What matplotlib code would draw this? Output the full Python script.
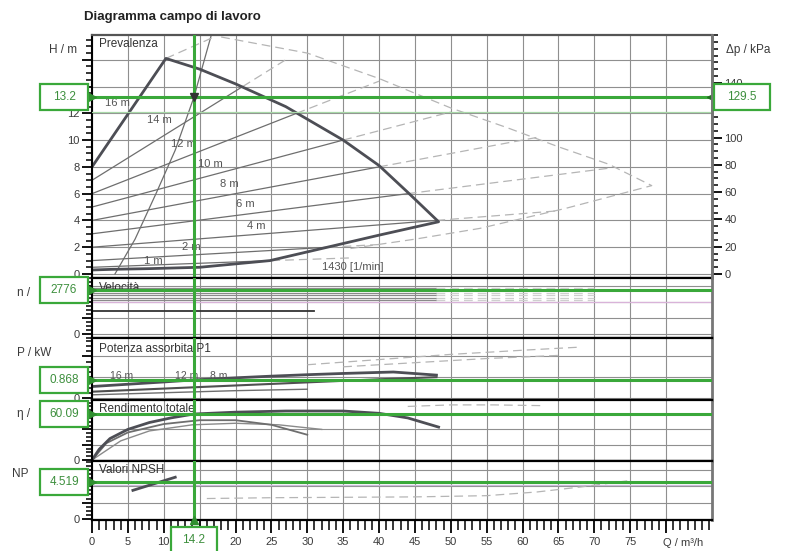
import numpy as np
import matplotlib.pyplot as plt
from matplotlib.patches import Rectangle
from matplotlib.ticker import MultipleLocator, FixedLocator, FixedFormatter

plt.rcParams["font.family"] = ["Liberation Sans", "DejaVu Sans"]

# operating point
Q_op = 14.2
H_op = 13.2
dp_op = 129.5
n_op = 2776
P_op = 0.868
eta_op = 60.09
npsh_op = 4.519

# head envelope (max / min speed)
Q_env = [0, 10.3, 15, 20, 27, 35, 40, 44, 48.3, 40, 32, 24.8, 15, 8, 3, 0]
H_env = [8, 16.1, 15.3, 14.2, 12.5, 10, 8.1, 6.1, 3.9, 2.9, 1.9, 1.0, 0.5, 0.4, 0.35, 0.3]

# outer dashed envelope
Q_env_out = [18, 30, 40, 50, 58, 65, 72, 78, 66, 54, 45, 36]
H_env_out = [17.7, 16.5, 14.6, 12.4, 10.9, 9.5, 8.2, 6.6, 4.9, 3.4, 2.6, 1.9]

# dp-v control lines: start at Q=0, end on the envelope, dashed end outside
setpoints = ["16 m", "14 m", "12 m", "10 m", "8 m", "6 m", "4 m", "2 m", "1 m"]
H_fan_start = [8, 7, 6, 5, 4, 3, 2, 1, 0.5]
Q_fan_mid = [10.3, 21, 28.5, 35, 40, 44, 48, 33, 25]
H_fan_mid = [16.1, 14, 12, 10, 8, 6, 4, 2, 1.0]
Q_fan_end = [17, 27, 40, 50, 62, 72, 64.5, 40, 36]
H_fan_end = [17.7, 16.0, 14.4, 12.1, 10.2, 7.9, 4.7, 2.2, 1.2]
Q_fan_lbl = [1.8, 7.6, 11.0, 14.8, 17.8, 20.0, 21.6, 12.5, 7.2]
H_fan_lbl = [12.8, 11.5, 9.7, 8.2, 6.7, 5.2, 3.6, 2.0, 1.0]

# system curve
Q_sys = [3.2, 6, 9, 11.6, 14.2, 16.6]
H_sys = [0, 2.6, 6.1, 9.25, 13.2, 17.8]

# speed lines
n_levels = [2900, 2750, 2600, 2450, 2300, 2150]
n_min = 1430
Q_n_max = 48
Q_n_min = 31

# power input P1
Q_P1 = [0, 5, 10, 14.2, 20, 25, 30, 35, 42, 48]
P_P1 = [0.55, 0.66, 0.77, 0.868, 0.97, 1.05, 1.12, 1.18, 1.25, 1.1]
Q_P2 = [0, 10, 20, 30, 40, 48]
P_P2 = [0.3, 0.45, 0.6, 0.75, 0.9, 1.0]
Q_P3 = [0, 10, 20, 30]
P_P3 = [0.15, 0.25, 0.35, 0.42]
Q_P4 = [30, 40, 50, 60, 68]
P_P4 = [1.6, 1.85, 2.1, 2.3, 2.45]
Q_P5 = [35, 45, 55, 65]
P_P5 = [1.5, 1.7, 1.9, 2.05]

# total efficiency
Q_e1 = [0, 1, 2.5, 5, 8, 11, 14.2, 20, 27, 35, 40, 44, 48.3]
E_e1 = [0, 14, 28, 40, 49, 55, 60.09, 62.5, 64, 64, 61, 55, 43]
Q_e2 = [0, 2, 5, 10, 15, 20, 25, 30]
E_e2 = [0, 22, 36, 47, 52, 52, 46, 33]
Q_e3 = [0, 4, 8, 14, 20, 26, 32]
E_e3 = [0, 25, 38, 46, 48, 46, 40]
Q_e4 = [44, 50, 56, 63]
E_e4 = [70, 72, 72, 71]

# NPSH
Q_s1 = [5.7, 11.6]
S_s1 = [3.5, 5.1]
Q_s2 = [16, 25, 35, 45, 55, 62, 68, 75]
S_s2 = [2.5, 2.6, 2.65, 2.7, 2.85, 3.3, 3.9, 4.7]

x_ticks = [0, 5, 10, 15, 20, 25, 30, 35, 40, 45, 50, 55, 60, 65, 70, 75]
h_ticks = [0, 2, 4, 6, 8, 10, 12, 14, 16]
dp_ticks = [0, 20, 40, 60, 80, 100, 120, 140]

W, HP = 791, 551
GREEN = "#3aa83a"
GREEN_TXT = "#3d8f3d"
DARK = "#4d4e55"
GRAY = "#6e6e6e"
LIGHT = "#b5b5b5"
GRID = "#8f8f8f"
TXT = "#3a3a3a"

fig = plt.figure(figsize=(W / 100, HP / 100), dpi=100)


def frac(x0, y0, x1, y1):
    return [x0 / W, 1 - y1 / HP, (x1 - x0) / W, (y1 - y0) / HP]


axH = fig.add_axes(frac(92, 35, 712, 278))
axN = fig.add_axes(frac(92, 278, 712, 338), sharex=axH)
axP = fig.add_axes(frac(92, 338, 712, 400), sharex=axH)
axE = fig.add_axes(frac(92, 400, 712, 461), sharex=axH)
axS = fig.add_axes(frac(92, 461, 712, 520), sharex=axH)
panels = [axH, axN, axP, axE, axS]

axH.set_xlim(0, 86.4)
axH.set_ylim(-0.3, 17.85)
axN.set_ylim(-250, 3530)
axP.set_ylim(-0.1, 2.89)
axE.set_ylim(-1.3, 78.4)
axS.set_ylim(-0.12, 7.08)

major = {axH: 2, axN: 1000, axP: 1, axE: 20, axS: 2}
minor = {axH: 0.5, axN: 250, axP: 0.25, axE: 5, axS: 0.5}

for ax in panels:
    ax.yaxis.set_major_locator(MultipleLocator(major[ax]))
    ax.yaxis.set_minor_locator(MultipleLocator(minor[ax]))
    ax.xaxis.set_major_locator(MultipleLocator(5))
    ax.xaxis.set_minor_locator(MultipleLocator(1))
    ax.grid(True, which="major", color=GRID, lw=0.8)
    ax.set_axisbelow(True)
    ax.tick_params(axis="y", which="major", direction="out", length=7, width=1.3,
                   labelsize=8, labelcolor=TXT, pad=2)
    ax.tick_params(axis="y", which="minor", direction="out", length=4, width=1.1)
    ax.spines["left"].set_linewidth(1.5)
    ax.spines["bottom"].set_linewidth(1.6)
    ax.spines["top"].set_linewidth(1.6)
    ax.spines["right"].set_color("#777777")
    ax.spines["right"].set_linewidth(2)
    if ax is not axS:
        ax.tick_params(axis="x", which="both", length=0, labelbottom=False)

# x labels: the one under the duty-point box stays empty
axS.tick_params(axis="x", which="major", direction="out", length=9, width=1.3,
                labelsize=8, labelcolor=TXT, pad=3)
axS.tick_params(axis="x", which="minor", direction="out", length=7, width=1.1)
axS.xaxis.set_major_locator(FixedLocator(x_ticks + [80]))
axS.xaxis.set_major_formatter(FixedFormatter(
    ["" if abs(t - Q_op) < 3 else str(t) for t in x_ticks] + [""]))
axH.spines["top"].set_color("#555555")

# only the zero label on the small panels
for ax in [axN, axP, axE, axS]:
    locs = ax.yaxis.get_major_locator()()
    ax.yaxis.set_major_locator(FixedLocator(locs))
    ax.yaxis.set_major_formatter(FixedFormatter(["0" if abs(v) < 1e-9 else "" for v in locs]))
axH.yaxis.set_major_locator(FixedLocator(h_ticks))
axH.yaxis.set_major_formatter(FixedFormatter(
    ["" if v >= 14 else str(v) for v in h_ticks]))

# head panel
axH.plot(Q_sys, H_sys, color=GRAY, lw=0.9)
for i in range(len(setpoints)):
    axH.plot([0, Q_fan_mid[i]], [H_fan_start[i], H_fan_mid[i]], color=GRAY, lw=0.9)
    axH.plot([Q_fan_mid[i], Q_fan_end[i]], [H_fan_mid[i], H_fan_end[i]],
             color=LIGHT, lw=0.9, dashes=(7, 4))
    axH.text(Q_fan_lbl[i], H_fan_lbl[i], setpoints[i], fontsize=8, color="#555555",
             ha="left", va="center")
axH.plot(Q_env_out, H_env_out, color=LIGHT, lw=0.9, dashes=(7, 4))
axH.plot(Q_env, H_env, color=DARK, lw=2)
axH.text(32, 0.55, "1430 [1/min]", fontsize=8, color="#555555", va="center")
axH.text(0.012, 0.965, "Prevalenza", transform=axH.transAxes, fontsize=8.5,
         color="#333333", va="center")

axR = axH.twinx()
axR.set_ylim(np.array(axH.get_ylim()) * 9.81)
axR.yaxis.set_major_locator(FixedLocator(dp_ticks))
axR.yaxis.set_major_formatter(FixedFormatter(
    ["" if abs(v - dp_op) < 10 else str(v) for v in dp_ticks]))
axR.yaxis.set_minor_locator(MultipleLocator(5))
axR.tick_params(axis="y", which="major", direction="out", length=7, width=1.3,
                labelsize=8, labelcolor=TXT, pad=2)
axR.tick_params(axis="y", which="minor", direction="out", length=4, width=1.1)
for s in ["top", "bottom", "left"]:
    axR.spines[s].set_visible(False)
axR.spines["right"].set_color("#777777")
axR.spines["right"].set_linewidth(2)

# speed panel
for nv in n_levels:
    axN.plot([0, Q_n_max], [nv, nv], color="#8a8a8a", lw=0.9)
    axN.plot([Q_n_max, 70], [nv, nv], color="#cfcfcf", lw=0.9, dashes=(7, 4))
axN.plot([0, Q_n_min], [n_min, n_min], color="#333333", lw=1.3)
axN.axhline(2000, color="#d9b3d9", lw=0.9)
axN.text(0.012, 0.83, "Velocità", transform=axN.transAxes, fontsize=8.5, color="#333333",
         va="center")

# power panel
axP.plot(Q_P4, P_P4, color=LIGHT, lw=0.9, dashes=(7, 4))
axP.plot(Q_P5, P_P5, color=LIGHT, lw=0.9, dashes=(7, 4))
axP.plot(Q_P3, P_P3, color=GRAY, lw=1)
axP.plot(Q_P2, P_P2, color="#505050", lw=1.5)
axP.plot(Q_P1, P_P1, color=DARK, lw=2)
for q, lbl in zip([2.5, 11.5, 16.5], ["16 m", "12 m", "8 m"]):
    axP.text(q, 1.05, lbl, fontsize=7.5, color="#555555", va="center")
axP.text(0.012, 0.83, "Potenza assorbita P1", transform=axP.transAxes, fontsize=8.5,
         color="#333333", va="center")

# efficiency panel
axE.plot(Q_e4, E_e4, color=LIGHT, lw=0.9, dashes=(7, 4))
axE.plot(Q_e3, E_e3, color="#8a8a8a", lw=1)
axE.plot(Q_e2, E_e2, color=GRAY, lw=1.3)
axE.plot(Q_e1, E_e1, color=DARK, lw=2)
axE.text(0.012, 0.85, "Rendimento totale", transform=axE.transAxes, fontsize=8.5,
         color="#333333", va="center")

# NPSH panel
axS.axhline(4.1, color="#c9bcd9", lw=0.9)
axS.plot(Q_s2, S_s2, color=LIGHT, lw=0.9, dashes=(7, 4))
axS.plot(Q_s1, S_s1, color=DARK, lw=2)
axS.text(0.012, 0.84, "Valori NPSH", transform=axS.transAxes, fontsize=8.5,
         color="#333333", va="center")

# operating point lines
op_vals = {axH: H_op, axN: n_op, axP: P_op, axE: eta_op, axS: npsh_op}
for ax, v in op_vals.items():
    ax.axvline(Q_op, color=GREEN, lw=2.2, zorder=4)
    ax.axhline(v, color=GREEN, lw=2.2, zorder=4)
    ax.plot([0], [v], marker=">", color="#2f8f2f", ms=6, clip_on=False, zorder=6)
axH.axhline(12.1, color="#a8d8a8", lw=0.9, zorder=3)
axH.plot([86.4], [H_op], marker="<", color="#1f6f1f", ms=7, clip_on=False, zorder=6)
axH.plot([Q_op], [H_op], marker="v", color="#333333", ms=6, zorder=7)
axS.plot([Q_op], [axS.get_ylim()[0]], marker="^", color="#2f8f2f", ms=6, clip_on=False,
         zorder=6)

# axis names (the value boxes sit over the ends of the short ones)
fig.text(84 / W, 1 - 17 / HP, "Diagramma campo di lavoro", fontsize=9.5, weight="bold",
         color="#222222", va="center")
fig.text(77 / W, 1 - 50 / HP, "H / m", fontsize=8.5, color=TXT, ha="right", va="center")
fig.text(726 / W, 1 - 50 / HP, "Δp / kPa", fontsize=8.5, color=TXT, va="center")
fig.text(17 / W, 1 - 293 / HP, "n /", fontsize=8.5, color=TXT, va="center")
fig.text(17 / W, 1 - 353 / HP, "P / kW", fontsize=8.5, color=TXT, va="center")
fig.text(17 / W, 1 - 414 / HP, "η /", fontsize=8.5, color=TXT, va="center")
fig.text(12 / W, 1 - 474 / HP, "NP", fontsize=8.5, color=TXT, va="center")
fig.text(683 / W, 1 - 543 / HP, "Q / m³/h", fontsize=8, color=TXT, ha="center", va="center")


def value_box(xc, yc, w, h, text):
    fig.add_artist(Rectangle(((xc - w / 2) / W, (yc - h / 2) / HP), w / W, h / HP,
                             transform=fig.transFigure, facecolor="white",
                             edgecolor=GREEN, lw=1.6, zorder=5))
    fig.text(xc / W, yc / HP, text, fontsize=8.5, color=GREEN_TXT, ha="center",
             va="center", zorder=6)


fig.canvas.draw()
for ax, v in op_vals.items():
    y_disp = ax.transData.transform((0, v))[1]
    value_box(64, y_disp, 48, 26, f"{v:g}")
yr = axH.transData.transform((0, H_op))[1]
value_box(742, yr, 56, 26, f"{dp_op:g}")
xb = axS.transData.transform((Q_op, 0))[0]
value_box(xb, HP - 540, 46, 26, f"{Q_op:g}")

fig.savefig("out.png", dpi=100)
